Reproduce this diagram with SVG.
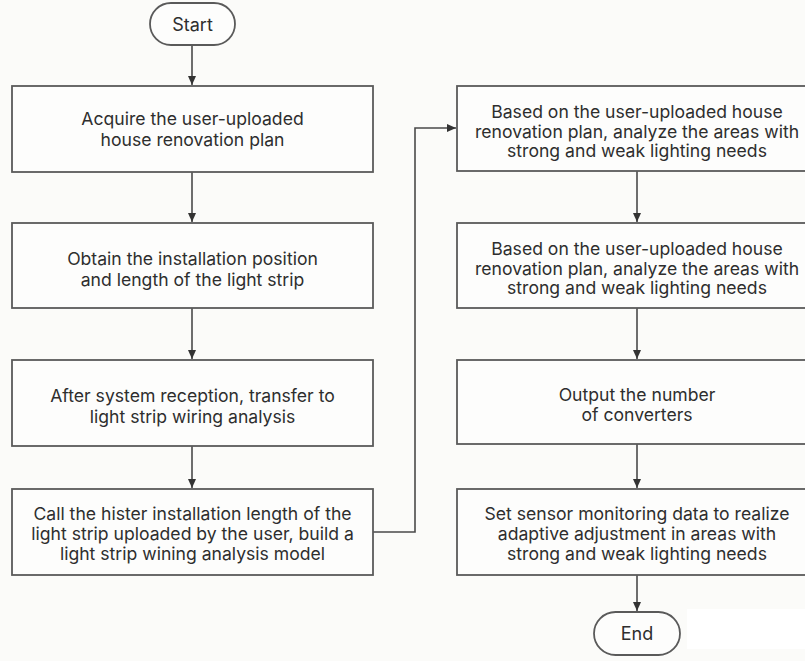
<svg xmlns="http://www.w3.org/2000/svg" width="805" height="661" viewBox="0 0 805 661">
<style>
.box{fill:#fdfdfc;stroke:#5a5a5a;stroke-width:1.8}
.t{font-family:Inter,"Noto Sans",sans-serif;font-size:17.6px;fill:#2e2e2e;text-anchor:middle}
.ts{font-family:Inter,"Noto Sans",sans-serif;font-size:18px;fill:#2e2e2e;text-anchor:middle}
.c{fill:none;stroke:#4a4a4a;stroke-width:1.6}
</style>
<defs>
<marker id="ah" markerUnits="userSpaceOnUse" markerWidth="10" markerHeight="10" viewBox="0 0 10 10" refX="9" refY="5" orient="auto">
<path d="M0,1 L9,5 L0,9 z" fill="#333"/>
</marker>
</defs>
<rect x="0" y="0" width="805" height="661" fill="#fbfbf9"/>
<rect x="687" y="609" width="118" height="40" fill="#ffffff"/>
<g id="connectors">
<line class="c" x1="192" y1="45" x2="192" y2="85" marker-end="url(#ah)"/>
<line class="c" x1="192" y1="172" x2="192" y2="222" marker-end="url(#ah)"/>
<line class="c" x1="192" y1="308" x2="192" y2="359" marker-end="url(#ah)"/>
<line class="c" x1="192" y1="446" x2="192" y2="488" marker-end="url(#ah)"/>
<polyline class="c" points="373,532 415,532 415,128 456,128" marker-end="url(#ah)"/>
<line class="c" x1="637" y1="171" x2="637" y2="222" marker-end="url(#ah)"/>
<line class="c" x1="637" y1="308" x2="637" y2="359" marker-end="url(#ah)"/>
<line class="c" x1="637" y1="444" x2="637" y2="488" marker-end="url(#ah)"/>
<line class="c" x1="637" y1="575" x2="637" y2="611" marker-end="url(#ah)"/>
</g>
<g id="start">
<rect class="box" x="150" y="3" width="85" height="42" rx="21"/>
<text class="ts" x="192.5" y="31">Start</text>
</g>
<g id="n1">
<rect class="box" x="12" y="86" width="361" height="86"/>
<text class="t" x="192.5" y="125">Acquire the user-uploaded</text>
<text class="t" x="192.5" y="146">house renovation plan</text>
</g>
<g id="n2">
<rect class="box" x="12" y="223" width="361" height="85"/>
<text class="t" x="192.5" y="264.5">Obtain the installation position</text>
<text class="t" x="192.5" y="285.5">and length of the light strip</text>
</g>
<g id="n3">
<rect class="box" x="12" y="360" width="361" height="86"/>
<text class="t" x="192.5" y="402">After system reception, transfer to</text>
<text class="t" x="192.5" y="423">light strip wiring analysis</text>
</g>
<g id="n4">
<rect class="box" x="12" y="489" width="361" height="86"/>
<text class="t" x="192.5" y="520">Call the hister installation length of the</text>
<text class="t" x="192.5" y="540">light strip uploaded by the user, build a</text>
<text class="t" x="192.5" y="560">light strip wining analysis model</text>
</g>
<g id="n5">
<rect class="box" x="457" y="86" width="362" height="85"/>
<text class="t" x="637" y="118">Based on the user-uploaded house</text>
<text class="t" x="637" y="137.5">renovation plan, analyze the areas with</text>
<text class="t" x="637" y="157">strong and weak lighting needs</text>
</g>
<g id="n6">
<rect class="box" x="457" y="223" width="362" height="85"/>
<text class="t" x="637" y="255">Based on the user-uploaded house</text>
<text class="t" x="637" y="274.5">renovation plan, analyze the areas with</text>
<text class="t" x="637" y="294">strong and weak lighting needs</text>
</g>
<g id="n7">
<rect class="box" x="457" y="360" width="362" height="84"/>
<text class="t" x="637" y="400.5">Output the number</text>
<text class="t" x="637" y="420.5">of converters</text>
</g>
<g id="n8">
<rect class="box" x="457" y="489" width="362" height="86"/>
<text class="t" x="637" y="520">Set sensor monitoring data to realize</text>
<text class="t" x="637" y="540">adaptive adjustment in areas with</text>
<text class="t" x="637" y="560">strong and weak lighting needs</text>
</g>
<g id="end">
<rect class="box" x="594" y="612" width="86" height="43" rx="21.5"/>
<text class="ts" x="637" y="640">End</text>
</g>
</svg>
